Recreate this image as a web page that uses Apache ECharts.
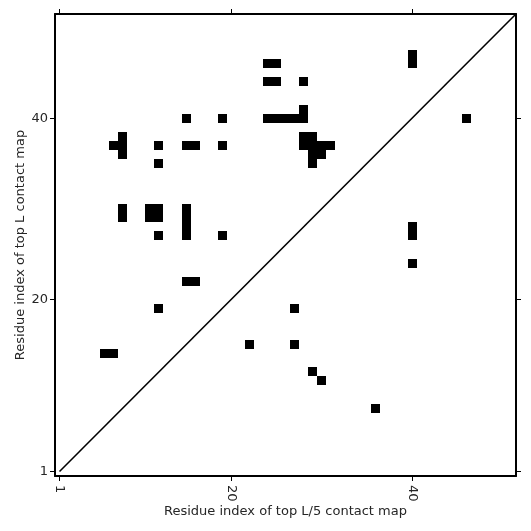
<!DOCTYPE html>
<html>
<head>
<meta charset="utf-8">
<script src="https://cdn.jsdelivr.net/npm/echarts@6/dist/echarts.min.js"></script>
<style>
  html, body { margin: 0; padding: 0; background: #fff; }
  #chart { width: 531px; height: 531px; }
</style>
</head>
<body>
<div id="chart"></div>
<script>
// contact cells [residue i (x), residue j (y)]
const contacts = [
  [24, 46], [25, 46], [40, 46], [40, 47],
  [24, 44], [25, 44], [28, 44],
  [28, 41],
  [15, 40], [19, 40], [24, 40], [25, 40], [26, 40], [27, 40], [28, 40], [46, 40],
  [8, 38], [28, 38], [29, 38],
  [7, 37], [8, 37], [12, 37], [15, 37], [16, 37], [19, 37], [28, 37], [29, 37], [30, 37], [31, 37],
  [8, 36], [29, 36], [30, 36],
  [12, 35], [29, 35],
  [8, 30], [11, 30], [12, 30], [15, 30],
  [8, 29], [11, 29], [12, 29], [15, 29],
  [15, 28], [40, 28],
  [12, 27], [15, 27], [19, 27], [40, 27],
  [40, 24],
  [15, 22], [16, 22],
  [12, 19], [27, 19],
  [22, 15], [27, 15],
  [6, 14], [7, 14],
  [29, 12], [30, 11],
  [36, 8]
]
const diagonal = [[1, 1], [51.5, 51.5]]
const tickValues = [1, 20, 40]
const axisMin = 0.5
const axisMax = 51.5

const chart = echarts.init(document.getElementById('chart'))

const labelFont = { color: '#262626', fontSize: 13, fontFamily: 'DejaVu Sans' }

function makeAxis(pos, isX) {
  const main = pos === 'bottom' || pos === 'left'
  return {
    type: 'value',
    position: pos,
    min: axisMin,
    max: axisMax,
    name: main ? (isX ? 'Residue index of top L/5 contact map' : 'Residue index of top L contact map') : '',
    nameLocation: 'middle',
    nameGap: isX ? 29 : 28,
    nameMoveOverlap: false,
    nameTextStyle: labelFont,
    axisLine: { show: true, onZero: false, lineStyle: { color: '#000', width: 2 } },
    axisTick: { show: true, customValues: tickValues, length: 5, lineStyle: { color: '#000', width: 1 } },
    axisLabel: {
      show: main,
      customValues: tickValues,
      rotate: isX ? -90 : 0,
      margin: isX ? 9 : 7,
      ...labelFont
    },
    splitLine: { show: false }
  }
}

const option = {
  animation: false,
  backgroundColor: '#fff',
  grid: { left: 55, right: 15, top: 14, bottom: 55 },
  xAxis: [makeAxis('bottom', true), makeAxis('top', true)],
  yAxis: [makeAxis('left', false), makeAxis('right', false)],
  series: [
    {
      type: 'custom',
      data: contacts,
      renderItem: function (params, api) {
        // snap cell edges to whole pixels so neighbouring cells join without seams
        const a = api.coord([api.value(0) - 0.5, api.value(1) + 0.5])
        const b = api.coord([api.value(0) + 0.5, api.value(1) - 0.5])
        const x0 = Math.round(a[0]), y0 = Math.round(a[1])
        const x1 = Math.round(b[0]), y1 = Math.round(b[1])
        return {
          type: 'rect',
          shape: { x: x0, y: y0, width: x1 - x0, height: y1 - y0 },
          style: { fill: '#000' }
        }
      }
    },
    {
      type: 'line',
      data: diagonal,
      symbol: 'none',
      lineStyle: { color: '#000', width: 1.6 },
      z: 3
    }
  ]
}

chart.setOption(option)
</script>
</body>
</html>
